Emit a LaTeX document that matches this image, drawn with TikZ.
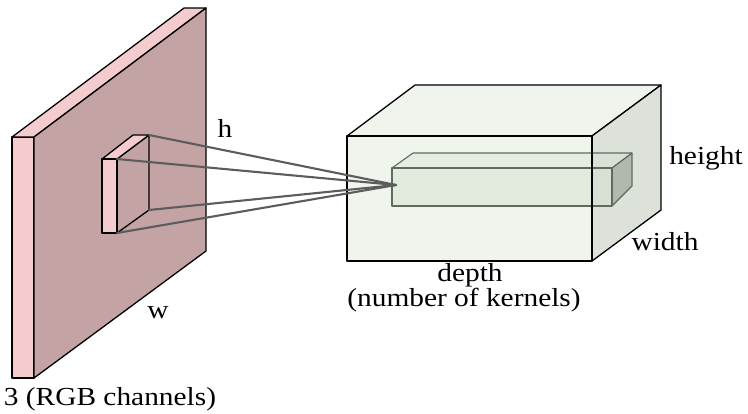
\documentclass[tikz,border=0pt]{standalone}
\usepackage{fontspec}
\setmainfont{Liberation Serif}
\usepackage{graphicx}
\definecolor{pinklight}{RGB}{244,204,205}
\definecolor{rosemain}{RGB}{196,163,164}
\definecolor{greenfront}{RGB}{239,245,236}
\definecolor{greenside}{RGB}{220,225,218}
\definecolor{barfront}{RGB}{214,224,210}
\definecolor{barside}{RGB}{160,168,156}
\definecolor{baredge}{RGB}{95,108,93}
\definecolor{rayc}{RGB}{92,92,92}
\tikzset{
  edge/.style={draw=black, line width=1.3pt, line join=round},
  baredges/.style={draw=baredge, line width=1.1pt, line join=round},
  ray/.style={draw=rayc, line width=2.1pt, line cap=round},
  lbl/.style={inner sep=0pt, anchor=base, font=\fontsize{26}{29}\selectfont}
}
\newcommand{\wide}[1]{\scalebox{1.13}[1]{#1}}
\begin{document}
\begin{tikzpicture}[x=1pt,y=-1pt]
\useasboundingbox (0,0) rectangle (748,413);
% ---- input slab ----
\path[edge, fill=pinklight] (12,137) -- (34,137) -- (34,378) -- (12,378) -- cycle;
\path[edge, fill=pinklight] (12,137) -- (184,8) -- (206,8) -- (34,137) -- cycle;
\path[edge, fill=rosemain] (34,137) -- (206,8) -- (206,251) -- (34,378) -- cycle;
% ---- kernel ----
\coordinate (k1) at (117,159);
\coordinate (k2) at (149,135);
\coordinate (k3) at (149,210);
\coordinate (k4) at (117,233);
\path[edge, fill=rosemain] (k1) -- (k2) -- (k3) -- (k4) -- cycle;
\path[edge, fill=pinklight] (102,159) -- (133,135) -- (k2) -- (k1) -- cycle;
\path[edge, fill=pinklight] (102,159) -- (k1) -- (k4) -- (102,233) -- cycle;
% ---- output volume ----
\path[edge, fill=greenfront] (347,136) -- (415,85) -- (661,85) -- (592,136) -- cycle;
\path[edge, fill=greenside] (592,136) -- (661,85) -- (661,210) -- (592,261) -- cycle;
\path[edge, fill=greenfront] (347,136) -- (592,136) -- (592,261) -- (347,261) -- cycle;
% ---- feature bar ----
\path[baredges, fill=barfront, fill opacity=0.4] (392,168) -- (413,153) -- (632,153) -- (612,168) -- cycle;
\path[baredges, fill=barside, fill opacity=0.7] (612,168) -- (632,153) -- (632,186) -- (612,206) -- cycle;
\path[baredges, fill=barfront, fill opacity=0.5] (392,168) -- (612,168) -- (612,206) -- (392,206) -- cycle;
\draw[edge] (592,136) -- (592,261);
% ---- rays ----
\coordinate (f) at (396,185);
\draw[ray] (k2) -- (f);
\draw[ray] (k1) -- (f);
\draw[ray] (k3) -- (f);
\draw[ray] (k4) -- (f);
% ---- labels ----
\node[lbl] (h) at (225,137) {\wide{h}};
\node[lbl] (w) at (158,318) {\wide{w}};
\node[lbl] (height) at (706,164) {\wide{height}};
\node[lbl] (width) at (665,250) {\wide{width}};
\node[lbl] (depth) at (470,281) {\wide{depth}};
\node[lbl] (nk) at (464,306) {\wide{(number of kernels)}};
\node[lbl] (rgb) at (110,405) {\wide{3 (RGB channels)}};
\end{tikzpicture}
\end{document}
